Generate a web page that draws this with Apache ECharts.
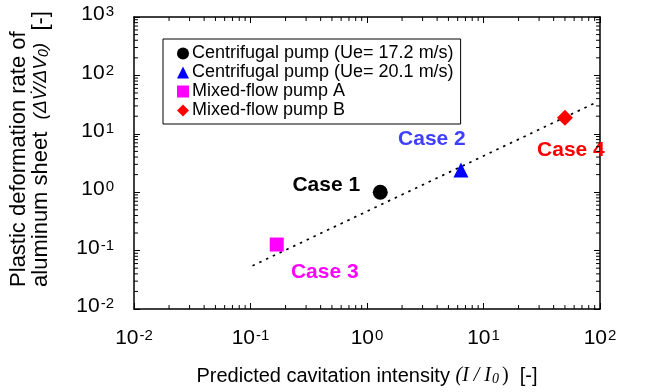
<!DOCTYPE html>
<html>
<head>
<meta charset="utf-8">
<script src="https://cdn.jsdelivr.net/npm/echarts@6/dist/echarts.min.js"></script>
<style>
  html, body { margin: 0; padding: 0; background: #fff; }
  #chart { width: 651px; height: 392px; }
</style>
</head>
<body>
<div id="chart"></div>
<script>
// measured points: [I/I0, dV/dV0]
const case1 = [[1.3, 1.0]]
const case2 = [[6.4, 2.4]]
const case3 = [[0.168, 0.127]]
const case4 = [[50, 18.9]]
const trendLine = [[0.104, 0.055], [93, 34.6]]

const seriesNames = [
  'Centrifugal pump (Ue= 17.2 m/s)',
  'Centrifugal pump (Ue= 20.1 m/s)',
  'Mixed-flow pump A',
  'Mixed-flow pump B'
]
const caseLabels = ['Case 1', 'Case 2', 'Case 3', 'Case 4']

const xMin = 0.01
const xMax = 100
const yMin = 0.01
const yMax = 1000
const minorMults = [2, 3, 4, 5, 6, 7, 8, 9]
const xDecades = [0.01, 0.1, 1, 10]
const yDecades = [0.01, 0.1, 1, 10, 100]

const FONT = 'Liberation Sans, Arial, sans-serif'
const SERIF = 'Liberation Serif, Times New Roman, serif'

function minorValues(decades) {
  var out = []
  decades.forEach(function(d) {
    minorMults.forEach(function(m) { out.push(+(m * d).toPrecision(6)) })
  })
  return out
}

function powLabel(v) {
  var e = Math.round(Math.log10(v))
  return '{b|10}{s|' + e + '}'
}

const labelRich = {
  b: { fontSize: 21, fontFamily: FONT, color: '#000', padding: [0, 0, 5, 0] },
  s: { fontSize: 15, fontFamily: FONT, color: '#000', padding: [0, 0, 10, 1] }
}

function tickSeries(data, size, offset) {
  return {
    type: 'scatter',
    data: data,
    symbol: 'rect',
    symbolSize: size,
    symbolOffset: offset,
    itemStyle: { color: '#000', opacity: 1 },
    silent: true,
    clip: false,
    z: 5,
    animation: false
  }
}

const xMinor = minorValues(xDecades)
const yMinor = minorValues(yDecades)

var chart = echarts.init(document.getElementById('chart'))

function pointSeries(name, data, symbol, size, color, label, labelColor, offset) {
  return {
    name: name,
    type: 'scatter',
    data: data,
    symbol: symbol,
    symbolSize: size,
    itemStyle: { color: color, opacity: 1 },
    z: 4,
    label: {
      show: true,
      formatter: label,
      position: 'inside',
      offset: offset,
      color: labelColor,
      opacity: 1,
      fontSize: 21,
      fontWeight: 'bold',
      fontFamily: FONT
    },
    animation: false
  }
}

var axisCommon = {
  type: 'log',
  logBase: 10,
  axisLine: { lineStyle: { color: '#000', width: 1.5 } },
  axisTick: { inside: true, length: 6, lineStyle: { color: '#000', width: 1 } },
  splitLine: { show: false }
}

chart.setOption({
  backgroundColor: '#fff',
  animation: false,
  grid: { left: 133, right: 51, top: 17, bottom: 83 },
  legend: {
    data: seriesNames,
    orient: 'vertical',
    left: 163,
    top: 39,
    padding: [5, 7, 4, 14],
    itemGap: 0,
    itemWidth: 12,
    itemHeight: 12,
    borderColor: '#000',
    borderWidth: 1,
    textStyle: { fontSize: 18, lineHeight: 19, color: '#000', fontFamily: FONT, padding: [0, 0, 0, -2] }
  },
  xAxis: [
    Object.assign({}, axisCommon, {
      min: xMin,
      max: xMax,
      position: 'bottom',
      axisLabel: { margin: 19, fontSize: 21, formatter: powLabel, rich: labelRich },
      name: '{t|Predicted cavitation intensity }{i|(I / I}{j|0}{p|)}{t|  [-]}',
      nameLocation: 'middle',
      nameGap: 57,
      nameTextStyle: {
        rich: {
          t: { fontSize: 20, fontFamily: FONT, color: '#000' },
          i: { fontSize: 20, fontFamily: SERIF, fontStyle: 'italic', color: '#000' },
          j: { fontSize: 14, fontFamily: SERIF, fontStyle: 'italic', color: '#000', padding: [6, 0, 0, 1] },
          p: { fontSize: 20, fontFamily: SERIF, color: '#000', padding: [0, 0, 0, 3] }
        }
      }
    }),
    Object.assign({}, axisCommon, {
      min: xMin,
      max: xMax,
      position: 'top',
      axisLabel: { show: false }
    })
  ],
  yAxis: [
    Object.assign({}, axisCommon, {
      min: yMin,
      max: yMax,
      position: 'left',
      axisLabel: { margin: 20, fontSize: 21, formatter: powLabel, rich: labelRich },
      name: '{t|Plastic deformation rate of}\n{t|aluminum sheet  }{i|(ΔV̇/ΔV}{k|0}{i|)}{t|  [-]}',
      nameLocation: 'middle',
      nameRotate: 90,
      nameGap: 82,
      nameTextStyle: {
        align: 'center',
        padding: [0, 0, 0, 28],
        rich: {
          t: { fontSize: 22, fontFamily: FONT, color: '#000', align: 'left', lineHeight: 22 },
          i: { fontSize: 19, fontFamily: 'Liberation Sans, DejaVu Sans, sans-serif', fontStyle: 'italic', color: '#000', align: 'left', lineHeight: 22 },
          k: { fontSize: 14, fontFamily: FONT, fontStyle: 'italic', color: '#000', align: 'left', lineHeight: 22, padding: [6, 0, 0, 0] }
        }
      }
    }),
    Object.assign({}, axisCommon, {
      min: yMin,
      max: yMax,
      position: 'right',
      axisLabel: { show: false }
    })
  ],
  series: [
    {
      type: 'line',
      data: trendLine,
      symbol: 'none',
      silent: true,
      lineStyle: { color: '#000', width: 1.7, type: [2.5, 5] },
      z: 3,
      animation: false
    },
    pointSeries(seriesNames[0], case1, 'circle', 15, '#000', caseLabels[0], '#000', [-54, -7]),
    pointSeries(seriesNames[1], case2, 'triangle', 15, '#0000ff', caseLabels[1], '#3f3fff', [-29, -31]),
    pointSeries(seriesNames[2], case3, 'rect', 14, '#ff00ff', caseLabels[2], '#ff00ff', [48, 28]),
    pointSeries(seriesNames[3], case4, 'diamond', 16, '#ff0000', caseLabels[3], '#ff0000', [6, 33]),
    tickSeries(xMinor.map(function(v) { return [v, yMin] }), [1, 4], [0, -2]),
    tickSeries(xMinor.map(function(v) { return [v, yMax] }), [1, 4], [0, 2]),
    tickSeries(yMinor.map(function(v) { return [xMin, v] }), [4, 1], [2, 0]),
    tickSeries(yMinor.map(function(v) { return [xMax, v] }), [4, 1], [-2, 0])
  ]
})
</script>
</body>
</html>
